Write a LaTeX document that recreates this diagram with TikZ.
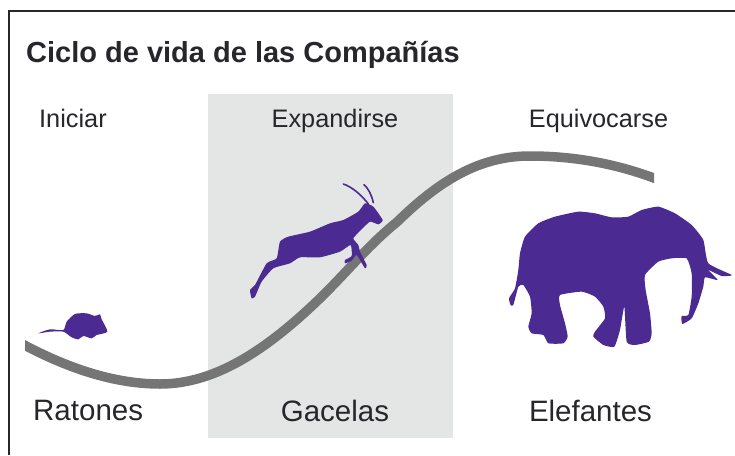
\documentclass[tikz,border=0pt]{standalone}
\usepackage{fontspec}
\setmainfont{Liberation Sans}
\usepackage{xcolor}
\definecolor{animal}{HTML}{4B2A91}
\definecolor{curva}{HTML}{757575}
\definecolor{panel}{HTML}{E4E5E5}
\definecolor{tinta}{HTML}{26262B}
\tikzset{
  fase/.style={text=tinta,font=\fontsize{25.3}{27}\selectfont,inner sep=0pt},
  nombre/.style={text=tinta,font=\fontsize{29.5}{31}\selectfont,inner sep=0pt},
  silueta/.style={fill=animal,draw=none},
  cuerno/.style={draw=animal,line width=1.6pt,line cap=round}
}
\begin{document}
\begin{tikzpicture}[x=1pt,y=-1pt]
\useasboundingbox (0,0) rectangle (735,455);
\fill[white] (0,0) rectangle (735,455);
\fill[panel] (208,94) rectangle (453,438);
% marco
\draw[line width=2pt,tinta] (9,455) -- (9,11) -- (735,11);
% curva de vida
\begin{scope}
\clip (25,100) rectangle (654,420);
\draw[line width=9.5pt,curva] (15,340) .. controls (60,365) and (110,384) .. (160,384)
  .. controls (215,384) and (265,350) .. (313,305)
  .. controls (345,275) and (365,248) .. (397,222)
  .. controls (440,180) and (480,156) .. (530,156)
  .. controls (580,156) and (625,166) .. (664,182);
\end{scope}
% raton
\begin{scope}[shift={(0,280)},x=0.3333pt,y=-0.3333pt]
\fill[silueta] plot[smooth cycle,tension=.4] coordinates {(115,160) (150,148) (190,150) (200,125) (225,102) (260,100) (285,108) (300,103) (305,118) (322,155) (290,165) (275,175) (250,168) (235,178) (215,172) (190,155) (150,155)};
\end{scope}
% gacela
\begin{scope}[shift={(230,170)},x=0.3333pt,y=-0.3333pt]
\draw[cuerno] (340,42) .. controls (365,50) and (395,75) .. (415,102);
\draw[cuerno] (402,44) .. controls (415,55) and (425,75) .. (430,98);
\fill[silueta] plot[smooth cycle,tension=.3] coordinates {(65,385) (60,360) (75,345) (110,280) (140,265) (150,215) (175,200) (240,185) (300,160) (340,150) (385,125) (405,100) (430,110) (458,150) (445,163) (420,155) (395,178) (370,205) (385,225) (390,245) (410,285) (405,295) (380,255) (365,272) (345,280) (345,270) (365,258) (362,225) (330,245) (270,262) (210,262) (180,280) (130,295) (95,335) (75,380)};
\end{scope}
% elefante
\begin{scope}[shift={(495,190)},x=0.3333pt,y=-0.3333pt]
\fill[silueta] plot[smooth cycle,tension=.3] coordinates {(47,345) (42,325) (60,295) (70,240) (75,190) (90,140) (130,100) (180,80) (250,65) (300,70) (350,82) (400,80) (440,60) (490,50) (540,70) (590,105) (625,150) (640,220) (710,255) (680,258) (640,240) (668,270) (630,262) (625,290) (610,340) (590,385) (562,402) (560,378) (580,375) (590,320) (590,250) (575,205) (530,205) (490,215) (450,255) (452,300) (465,370) (470,430) (462,455) (420,465) (395,455) (388,350) (375,420) (358,470) (325,465) (295,440) (300,425) (330,385) (325,350) (300,320) (260,305) (195,315) (195,345) (210,400) (218,440) (205,460) (160,460) (145,435) (110,430) (100,410) (110,370) (105,320) (85,285) (70,290) (55,345)};
\end{scope}
% textos
\node[inner sep=0pt,anchor=base west,text=tinta,font=\bfseries\fontsize{29}{31}\selectfont] (titulo) at (26,62) {Ciclo de vida de las Compañías};
\node[fase,anchor=base west] (iniciar) at (39,127) {Iniciar};
\node[fase,anchor=base] (expandirse) at (335,127) {Expandirse};
\node[fase,anchor=base] (equivocarse) at (598.5,127) {Equivocarse};
\node[nombre,anchor=base west] (ratones) at (33,420) {Ratones};
\node[nombre,anchor=base] (gacelas) at (335,421) {Gacelas};
\node[nombre,anchor=base] (elefantes) at (590.5,421) {Elefantes};
\end{tikzpicture}
\end{document}
